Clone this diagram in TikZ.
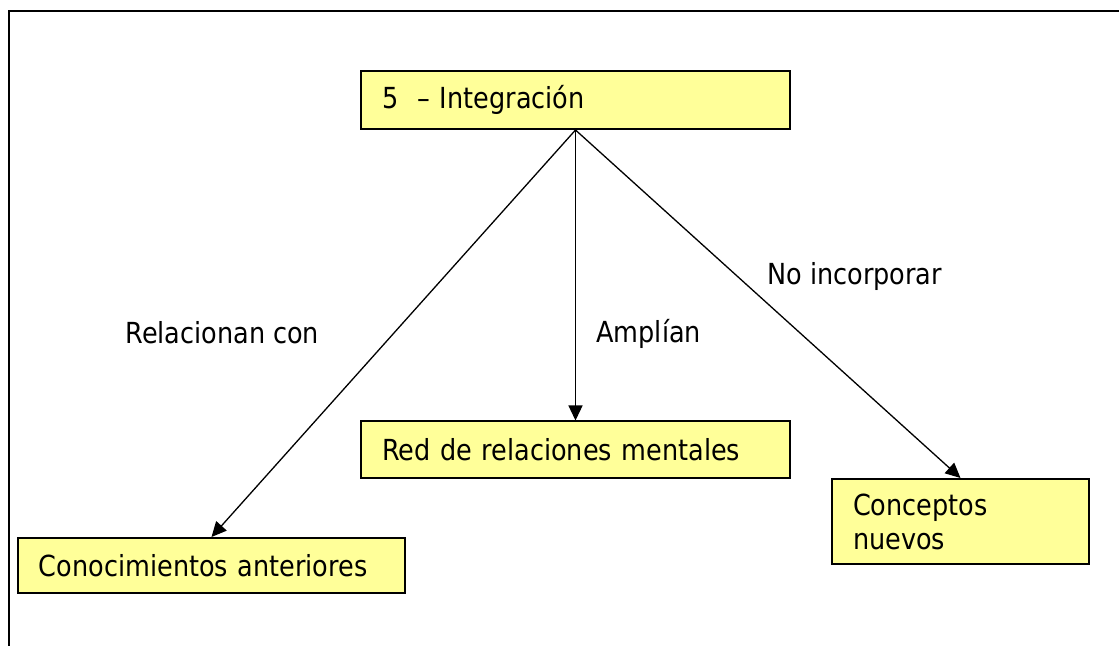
\documentclass[tikz,border=0pt]{standalone}
\usepackage{fontspec}
\setmainfont{DejaVu Sans}[FakeStretch=0.88]
\usetikzlibrary{arrows.meta}
\definecolor{ffff99}{rgb}{1,1,0.6}
\newcommand{\mapfont}{\fontsize{14.5pt}{17pt}\selectfont}

\begin{document}
\begin{tikzpicture}[x=0.5pt,y=-0.5pt,
    concept/.style={draw=black,line width=1pt,fill=ffff99,rectangle,align=left,inner xsep=10.5pt,inner ysep=0pt,font=\mapfont},
    linklabel/.style={anchor=base west,inner sep=0pt,font=\mapfont},
    link/.style={line width=0.65pt,-{Triangle[length=7.5pt,width=7pt]}}]
    \useasboundingbox (0,0) rectangle (1119,646);
    \draw [line width=1pt] (8.5,646) -- (8.5,11.5) -- (1119,11.5);
    \node[concept,text width=193.5pt,minimum height=29pt] (integ) at (575.5,100) {5\ \ -- Integración};
    \node[concept,text width=193.5pt,minimum height=28.5pt] (red) at (575.5,450) {Red de relaciones mentales};
    \node[concept,text width=172.5pt,inner xsep=10.5pt,minimum height=27.5pt] (conoc) at (211.5,565.5) {Conocimientos anteriores};
    \node[concept,text width=107.5pt,minimum height=42.5pt] (nuevos) at (960.5,521.5) {Conceptos\\nuevos};
    \draw[link] (integ.south) -- (conoc.north);
    \draw[link] (integ.south) -- (red.north);
    \draw[link] (integ.south) -- (nuevos.north);
    \node[linklabel] (relac) at (125,344) {Relacionan con};
    \node[linklabel] (ampl) at (596,343) {Amplían};
    \node[linklabel] (noinc) at (767,285) {No incorporar};
\end{tikzpicture}
\end{document}
